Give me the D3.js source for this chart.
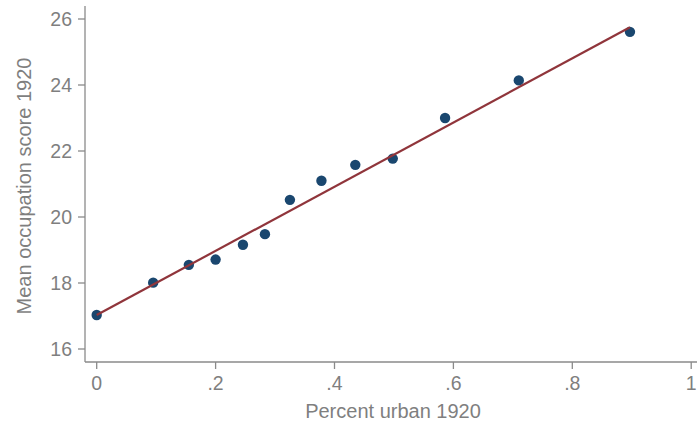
<!DOCTYPE html>
<html>
<head>
<meta charset="utf-8">
<script src="https://cdn.jsdelivr.net/npm/d3@7"></script>
<style>
  html, body { margin: 0; padding: 0; background: #fff; }
  text { font-family: "Liberation Sans", Arial, Helvetica, sans-serif; }
</style>
</head>
<body>
<svg id="chart" width="700" height="426"></svg>
<script>
// Share of population living in urban areas, 1920
const pctUrban = [0, 0.095, 0.155, 0.200, 0.246, 0.283, 0.325, 0.378, 0.435, 0.498, 0.586, 0.710, 0.897];
// Mean occupation score, 1920
const occScore = [17.03, 18.01, 18.55, 18.71, 19.16, 19.48, 20.52, 21.10, 21.58, 21.77, 23.00, 24.14, 25.61];
// Linear fit: score = intercept + slope * pctUrban
const fitIntercept = 17.03;
const fitSlope = 9.72;

const xTicks = [0, 0.2, 0.4, 0.6, 0.8, 1];
const xTickLabels = ["0", ".2", ".4", ".6", ".8", "1"];
const yTicks = [16, 18, 20, 22, 24, 26];

const svg = d3.select("#chart");
const axisColor = "#8a8a8a";
const textColor = "#7f7f7f";

const x = d3.scaleLinear().domain([0, 1]).range([96.7, 691.2]);
const y = d3.scaleLinear().domain([16, 26]).range([349, 19]);

const plotLeft = 85, plotBottom = 362, plotTop = 6, plotRight = 697;

// axis lines
svg.append("line").attr("x1", plotLeft).attr("x2", plotLeft).attr("y1", plotTop).attr("y2", plotBottom)
  .attr("stroke", axisColor).attr("stroke-width", 1.3);
svg.append("line").attr("x1", plotLeft).attr("x2", plotRight).attr("y1", plotBottom).attr("y2", plotBottom)
  .attr("stroke", axisColor).attr("stroke-width", 1.3);

// y ticks and labels
const yg = svg.append("g");
yg.selectAll("line").data(yTicks).join("line")
  .attr("x1", plotLeft - 7).attr("x2", plotLeft)
  .attr("y1", d => y(d)).attr("y2", d => y(d))
  .attr("stroke", axisColor).attr("stroke-width", 1.3);
yg.selectAll("text").data(yTicks).join("text")
  .attr("x", 72).attr("y", d => y(d))
  .attr("dy", "0.36em")
  .attr("text-anchor", "end")
  .attr("font-size", 19.5)
  .attr("fill", textColor)
  .text(d => d);

// x ticks and labels
const xg = svg.append("g");
xg.selectAll("line").data(xTicks).join("line")
  .attr("x1", d => x(d)).attr("x2", d => x(d))
  .attr("y1", plotBottom).attr("y2", plotBottom + 7)
  .attr("stroke", axisColor).attr("stroke-width", 1.3);
xg.selectAll("text").data(xTicks).join("text")
  .attr("x", d => x(d)).attr("y", 389.5)
  .attr("text-anchor", "middle")
  .attr("font-size", 19.5)
  .attr("fill", textColor)
  .text((d, i) => xTickLabels[i]);

// axis titles
svg.append("text")
  .attr("x", 393).attr("y", 418)
  .attr("text-anchor", "middle")
  .attr("font-size", 20)
  .attr("fill", textColor)
  .text("Percent urban 1920");
svg.append("text")
  .attr("transform", "translate(31,186) rotate(-90)")
  .attr("text-anchor", "middle")
  .attr("font-size", 20)
  .attr("fill", textColor)
  .text("Mean occupation score 1920");

// points
const pts = pctUrban.map((v, i) => ({ x: v, y: occScore[i] }));
svg.append("g").selectAll("circle").data(pts).join("circle")
  .attr("cx", d => x(d.x)).attr("cy", d => y(d.y)).attr("r", 5.2)
  .attr("fill", "#1a476f");

// fitted line over the observed range
const xMin = d3.min(pctUrban), xMax = d3.max(pctUrban);
const fit = [xMin, xMax].map(v => ({ x: v, y: fitIntercept + fitSlope * v }));
svg.append("path")
  .datum(fit)
  .attr("d", d3.line().x(d => x(d.x)).y(d => y(d.y)))
  .attr("fill", "none")
  .attr("stroke", "#90353b")
  .attr("stroke-width", 2.2);
</script>
</body>
</html>
